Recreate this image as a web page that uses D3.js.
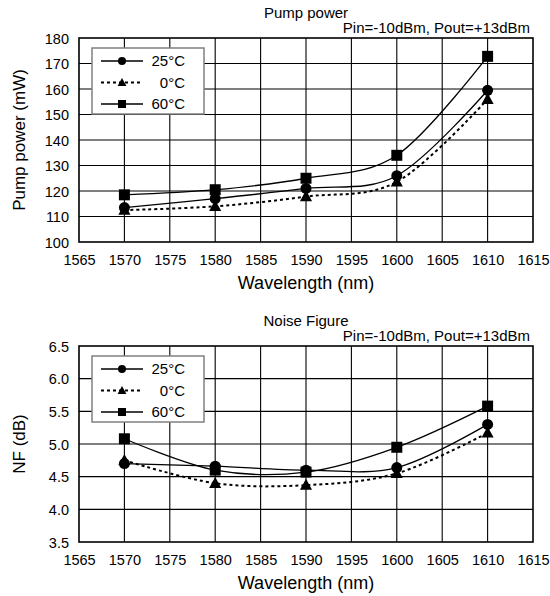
<!DOCTYPE html>
<html>
<head>
<meta charset="utf-8">
<script src="https://cdn.jsdelivr.net/npm/d3@7"></script>
<style>
  body { margin: 0; background: #fff; }
  text { font-family: "Liberation Sans", Arial, sans-serif; fill: #000; }
</style>
</head>
<body>
<div id="chart"></div>
<script>
// wavelengths (nm) where the points were measured
const wavelengths = [1570, 1580, 1590, 1600, 1610];
const xTicks = [1565, 1570, 1575, 1580, 1585, 1590, 1595, 1600, 1605, 1610, 1615];

// pump power (mW)
const pump25 = [113.5, 117, 121, 126, 159.5];
const pump0 = [112.5, 114, 117.8, 123.6, 156];
const pump60 = [118.5, 120.5, 125, 134, 172.8];
const pumpTicks = [100, 110, 120, 130, 140, 150, 160, 170, 180];

// noise figure (dB)
const nf25 = [4.7, 4.66, 4.6, 4.64, 5.3];
const nf0 = [4.75, 4.4, 4.37, 4.55, 5.17];
const nf60 = [5.08, 4.6, 4.57, 4.95, 5.58];
const nfTicks = [3.5, 4.0, 4.5, 5.0, 5.5, 6.0, 6.5];

const seriesNames = ["25\u00b0C", "0\u00b0C", "60\u00b0C"];
const seriesMarks = ["circle", "triangle", "square"];

const width = 550, height = 596;

const svg = d3
  .select("#chart")
  .append("svg")
  .attr("width", width)
  .attr("height", height);

//marker paths, centred on 0,0
function markerPath(type, s) {
  if (type === "circle") {
    return d3.symbol().type(d3.symbolCircle).size(Math.PI * s * s)();
  } else if (type === "square") {
    return `M${-s},${-s}H${s}V${s}H${-s}Z`;
  } else {
    return `M0,${-s * 1.15}L${s * 1.1},${s * 0.85}L${-s * 1.1},${s * 0.85}Z`;
  }
}

function drawChart(opt) {
  const left = 79, right = 533;
  const top = opt.top, bottom = opt.bottom;

  const x = d3.scaleLinear().domain([1565, 1615]).range([left, right]);
  const y = d3
    .scaleLinear()
    .domain(d3.extent(opt.yTicks))
    .range([bottom, top]);

  const g = svg.append("g");

  //grid lines
  g.append("g")
    .selectAll("line")
    .data(xTicks.slice(1, -1))
    .enter()
    .append("line")
    .attr("x1", (d) => x(d))
    .attr("x2", (d) => x(d))
    .attr("y1", top)
    .attr("y2", bottom)
    .attr("stroke", "#000")
    .attr("stroke-width", 1.1);

  g.append("g")
    .selectAll("line")
    .data(opt.yTicks.slice(1, -1))
    .enter()
    .append("line")
    .attr("x1", left)
    .attr("x2", right)
    .attr("y1", (d) => y(d))
    .attr("y2", (d) => y(d))
    .attr("stroke", "#000")
    .attr("stroke-width", 1.1);

  //axes (labels only, frame drawn below)
  const xAxis = g
    .append("g")
    .attr("transform", `translate(0,${bottom})`)
    .call(d3.axisBottom(x).tickValues(xTicks).tickSize(0).tickPadding(0).tickFormat(d3.format("d")));
  xAxis.select(".domain").remove();
  xAxis
    .selectAll("text")
    .attr("dy", null)
    .attr("y", 23)
    .style("font-size", "14.5px")
    .style("font-family", '"Liberation Sans", Arial, sans-serif');

  const yAxis = g
    .append("g")
    .attr("transform", `translate(${left},0)`)
    .call(d3.axisLeft(y).tickValues(opt.yTicks).tickSize(0).tickPadding(0).tickFormat(opt.fmt));
  yAxis.select(".domain").remove();
  yAxis
    .selectAll("text")
    .attr("x", -10)
    .attr("dy", "0.36em")
    .style("font-size", "14.5px")
    .style("font-family", '"Liberation Sans", Arial, sans-serif');

  //frame
  g.append("rect")
    .attr("x", left)
    .attr("y", top)
    .attr("width", right - left)
    .attr("height", bottom - top)
    .attr("fill", "none")
    .attr("stroke", "#000")
    .attr("stroke-width", 1.6);

  //titles
  g.append("text")
    .attr("x", (left + right) / 2)
    .attr("y", top - 20)
    .attr("text-anchor", "middle")
    .style("font-size", "15px")
    .text(opt.title);

  g.append("text")
    .attr("x", right - 3)
    .attr("y", top - 5)
    .attr("text-anchor", "end")
    .style("font-size", "15px")
    .text("Pin=-10dBm, Pout=+13dBm");

  g.append("text")
    .attr("x", (left + right) / 2)
    .attr("y", bottom + 47)
    .attr("text-anchor", "middle")
    .style("font-size", "18px")
    .text("Wavelength (nm)");

  g.append("text")
    .attr("transform", `translate(25,${(top + bottom) / 2}) rotate(-90)`)
    .attr("text-anchor", "middle")
    .style("font-size", "17px")
    .text(opt.yLabel);

  //lines and markers
  const line = d3
    .line()
    .x((d, i) => x(wavelengths[i]))
    .y((d) => y(d))
    .curve(d3.curveCatmullRom.alpha(0));

  opt.series.forEach((vals, k) => {
    g.append("path")
      .attr("d", line(vals))
      .attr("fill", "none")
      .attr("stroke", "#000")
      .attr("stroke-width", k === 1 ? 2 : 1.3)
      .attr("stroke-dasharray", k === 1 ? "3,3" : null);
  });

  opt.series.forEach((vals, k) => {
    g.append("g")
      .selectAll("path")
      .data(vals)
      .enter()
      .append("path")
      .attr("transform", (d, i) => `translate(${x(wavelengths[i])},${y(d)})`)
      .attr("d", markerPath(seriesMarks[k], 5.5))
      .attr("fill", "#000");
  });

  //legend
  const lx = 92, ly = top + 10;
  g.append("rect")
    .attr("x", lx)
    .attr("y", ly)
    .attr("width", 112)
    .attr("height", 66)
    .attr("fill", "#fff")
    .attr("stroke", "#808080")
    .attr("stroke-width", 1.5);

  seriesNames.forEach((name, k) => {
    const ry = ly + 13 + k * 21.5;
    g.append("line")
      .attr("x1", lx + 9)
      .attr("x2", lx + 51)
      .attr("y1", ry)
      .attr("y2", ry)
      .attr("stroke", "#000")
      .attr("stroke-width", k === 1 ? 2 : 1.3)
      .attr("stroke-dasharray", k === 1 ? "3,3" : null);
    g.append("path")
      .attr("transform", `translate(${lx + 30},${ry})`)
      .attr("d", markerPath(seriesMarks[k], 4))
      .attr("fill", "#000");
    g.append("text")
      .attr("x", lx + 93)
      .attr("y", ry)
      .attr("dy", "0.36em")
      .attr("text-anchor", "end")
      .style("font-size", "15px")
      .text(name);
  });
}

drawChart({
  top: 38,
  bottom: 242,
  yTicks: pumpTicks,
  fmt: d3.format("d"),
  title: "Pump power",
  yLabel: "Pump power (mW)",
  series: [pump25, pump0, pump60],
});

drawChart({
  top: 346,
  bottom: 542,
  yTicks: nfTicks,
  fmt: d3.format(".1f"),
  title: "Noise Figure",
  yLabel: "NF (dB)",
  series: [nf25, nf0, nf60],
});
</script>
</body>
</html>
